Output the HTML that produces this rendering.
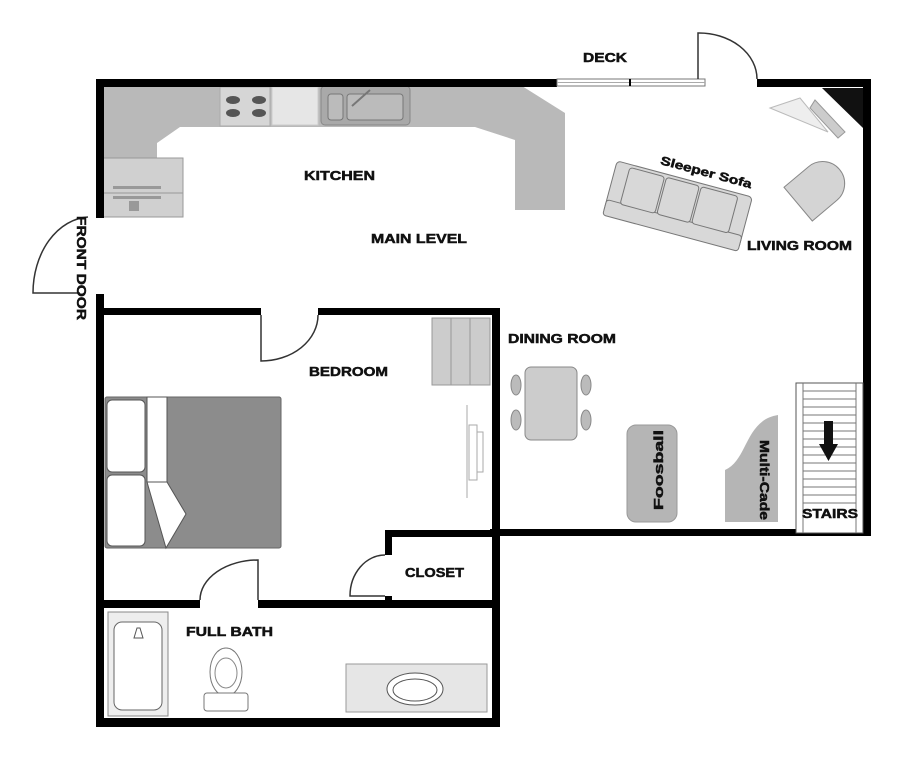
<!DOCTYPE html>
<html><head><meta charset="utf-8"><style>
html,body{margin:0;padding:0;background:#fff;}
svg{display:block;}
text{font-family:"Liberation Sans",sans-serif;font-weight:bold;fill:#111;stroke:#111;stroke-width:0.5;}
</style></head><body>
<svg width="918" height="768" viewBox="0 0 918 768" xmlns="http://www.w3.org/2000/svg">
<!-- kitchen counters -->
<path d="M103,86 L522,86 L565,113 L565,210 L515,210 L515,140 L475,127 L180,127 L157,143 L157,158 L103,158 Z" fill="#b9b9b9"/>
<rect x="100" y="158" width="83" height="59" fill="#d0d0d0" stroke="#999"/>
<line x1="100" y1="193" x2="183" y2="193" stroke="#999"/>
<rect x="113" y="186" width="48" height="3" fill="#999"/>
<rect x="113" y="196" width="48" height="3" fill="#999"/>
<rect x="129" y="201" width="10" height="10" fill="#999"/>
<rect x="220" y="87" width="50" height="39" fill="#d6d6d6" stroke="#aaa"/>
<g fill="#555"><ellipse cx="233" cy="100" rx="7" ry="4"/><ellipse cx="259" cy="100" rx="7" ry="4"/><ellipse cx="233" cy="113" rx="7" ry="4"/><ellipse cx="259" cy="113" rx="7" ry="4"/></g>
<rect x="272" y="87" width="46" height="38" fill="#e6e6e6" stroke="#ccc"/>
<rect x="321" y="86" width="89" height="39" rx="4" fill="#a9a9a9" stroke="#888"/>
<rect x="328" y="94" width="15" height="26" rx="3" fill="#bbb" stroke="#777"/>
<rect x="347" y="94" width="56" height="26" rx="3" fill="#bbb" stroke="#777"/>
<line x1="352" y1="106" x2="370" y2="90" stroke="#777" stroke-width="2"/>
<!-- walls -->
<g fill="#000">
<rect x="96" y="79" width="461" height="8"/>
<rect x="757" y="79" width="113" height="8"/>
<rect x="863" y="79" width="8" height="457"/>
<rect x="490" y="529" width="380" height="7"/>
<rect x="96" y="79" width="8" height="139"/>
<rect x="96" y="294" width="8" height="433"/>
<rect x="103" y="308" width="158" height="7"/>
<rect x="318" y="308" width="182" height="7"/>
<rect x="492" y="308" width="8" height="419"/>
<rect x="385" y="530" width="115" height="7"/>
<rect x="385" y="530" width="7" height="25"/>
<rect x="385" y="596" width="7" height="12"/>
<rect x="103" y="600" width="97" height="8"/>
<rect x="258" y="600" width="236" height="8"/>
<rect x="96" y="718" width="404" height="9"/>
</g>
<!-- deck window -->
<rect x="557" y="79" width="148" height="7" fill="#fff" stroke="#777"/>
<line x1="557" y1="82.5" x2="705" y2="82.5" stroke="#aaa"/>
<line x1="630" y1="79" x2="630" y2="86" stroke="#000" stroke-width="2"/>
<path d="M698,79 L698,33 A58,46 0 0 1 757,79" fill="none" stroke="#333" stroke-width="1.5"/>
<!-- front door -->
<path d="M88,217 A58,76 0 0 0 33,293 L80,293" fill="none" stroke="#333" stroke-width="1.5"/>
<text transform="translate(77,216) rotate(90)" font-size="13" textLength="104" lengthAdjust="spacingAndGlyphs">FRONT DOOR</text>
<!-- bedroom door -->
<path d="M261,315 L261,361 A57,46 0 0 0 318,315" fill="none" stroke="#333" stroke-width="1.5"/>
<!-- closet door -->
<path d="M385,555 A35,41 0 0 0 350,596 L385,596" fill="none" stroke="#333" stroke-width="1.5"/>
<!-- bath door -->
<path d="M200,600 A58,40 0 0 1 258,560 L258,600" fill="none" stroke="#333" stroke-width="1.5"/>
<!-- labels -->
<text x="583" y="62" font-size="13" textLength="44" lengthAdjust="spacingAndGlyphs">DECK</text>
<text x="304" y="180" font-size="13" textLength="71" lengthAdjust="spacingAndGlyphs">KITCHEN</text>
<text x="371" y="243" font-size="13" textLength="96" lengthAdjust="spacingAndGlyphs">MAIN LEVEL</text>
<text x="747" y="250" font-size="13" textLength="105" lengthAdjust="spacingAndGlyphs">LIVING ROOM</text>
<text x="508" y="343" font-size="13" textLength="108" lengthAdjust="spacingAndGlyphs">DINING ROOM</text>
<text x="309" y="376" font-size="13" textLength="79" lengthAdjust="spacingAndGlyphs">BEDROOM</text>
<text x="405" y="577" font-size="13" textLength="59" lengthAdjust="spacingAndGlyphs">CLOSET</text>
<text x="186" y="636" font-size="13" textLength="87" lengthAdjust="spacingAndGlyphs">FULL BATH</text>
<!-- sofa -->
<g transform="translate(677,208) rotate(15)">
<rect x="-70" y="-30" width="140" height="54" rx="4" fill="#d8d8d8" stroke="#777"/>
<rect x="-70" y="10" width="140" height="16" rx="3" fill="#d8d8d8" stroke="#777"/>
<rect x="-56" y="-27" width="36" height="38" rx="3" fill="#d8d8d8" stroke="#777"/>
<rect x="-18" y="-27" width="34" height="38" rx="3" fill="#d8d8d8" stroke="#777"/>
<rect x="18" y="-27" width="38" height="38" rx="3" fill="#d8d8d8" stroke="#777"/>
<text x="-28" y="-38" font-size="12" textLength="94" lengthAdjust="spacingAndGlyphs">Sleeper Sofa</text>
</g>
<!-- chair -->
<g transform="translate(815,190) rotate(-40)">
<path d="M-22,-22 L10,-22 A22,22 0 0 1 10,22 L-22,22 Z" fill="#d4d4d4" stroke="#888"/>
</g>
<!-- corner TV -->
<path d="M822,88 L863,88 L863,128 Z" fill="#111"/>
<path d="M815,100 L845,132 L838,138 L810,108 Z" fill="#ccc" stroke="#999"/>
<path d="M770,108 L800,98 L828,132 Z" fill="#eee" stroke="#bbb"/>
<!-- dining -->
<rect x="525" y="367" width="52" height="73" rx="6" fill="#ccc" stroke="#888"/>
<g fill="#bbb" stroke="#888"><ellipse cx="516" cy="385" rx="5" ry="10"/><ellipse cx="516" cy="420" rx="5" ry="10"/><ellipse cx="586" cy="385" rx="5" ry="10"/><ellipse cx="586" cy="420" rx="5" ry="10"/></g>
<!-- foosball -->
<rect x="627" y="425" width="50" height="97" rx="9" fill="#b5b5b5" stroke="#999"/>
<text transform="translate(663,510) rotate(-90)" font-size="13" textLength="80" lengthAdjust="spacingAndGlyphs">Foosball</text>
<!-- multicade -->
<path d="M725,522 L725,470 C748,460 745,420 778,415 L778,522 Z" fill="#b5b5b5"/>
<text transform="translate(760,440) rotate(90)" font-size="13" textLength="80" lengthAdjust="spacingAndGlyphs">Multi-Cade</text>
<!-- stairs -->
<rect x="796" y="383" width="67" height="150" fill="#fff" stroke="#555"/>
<g stroke="#777">
<line x1="803" y1="383" x2="803" y2="533"/><line x1="856" y1="383" x2="856" y2="533"/>
<line x1="803" y1="391" x2="856" y2="391"/><line x1="803" y1="399" x2="856" y2="399"/><line x1="803" y1="407" x2="856" y2="407"/><line x1="803" y1="415" x2="856" y2="415"/><line x1="803" y1="423" x2="856" y2="423"/><line x1="803" y1="431" x2="856" y2="431"/><line x1="803" y1="439" x2="856" y2="439"/><line x1="803" y1="447" x2="856" y2="447"/><line x1="803" y1="455" x2="856" y2="455"/><line x1="803" y1="463" x2="856" y2="463"/><line x1="803" y1="471" x2="856" y2="471"/><line x1="803" y1="479" x2="856" y2="479"/><line x1="803" y1="487" x2="856" y2="487"/><line x1="803" y1="495" x2="856" y2="495"/><line x1="803" y1="503" x2="856" y2="503"/>
</g>
<path d="M824,421 L833,421 L833,444 L838,444 L828.5,461 L819,444 L824,444 Z" fill="#111"/>
<text x="802" y="518" font-size="13" textLength="56" lengthAdjust="spacingAndGlyphs">STAIRS</text>
<!-- bed -->
<rect x="105" y="397" width="176" height="151" rx="2" fill="#8c8c8c" stroke="#666"/>
<rect x="107" y="400" width="38" height="72" rx="5" fill="#fff" stroke="#555"/>
<rect x="107" y="475" width="38" height="71" rx="5" fill="#fff" stroke="#555"/>
<rect x="147" y="397" width="20" height="85" fill="#fff" stroke="#555"/>
<path d="M147,482 L167,482 L186,514 L166,548 Z" fill="#fff" stroke="#555"/>
<!-- dresser -->
<rect x="432" y="318" width="58" height="67" fill="#ccc" stroke="#999"/>
<line x1="451" y1="318" x2="451" y2="385" stroke="#999"/><line x1="470" y1="318" x2="470" y2="385" stroke="#999"/>
<!-- bedroom TV -->
<line x1="467" y1="405" x2="467" y2="498" stroke="#aaa"/>
<rect x="469" y="425" width="8" height="55" fill="#fff" stroke="#aaa"/>
<rect x="477" y="432" width="6" height="40" fill="#fff" stroke="#aaa"/>
<!-- bath -->
<rect x="108" y="612" width="60" height="104" fill="#eee" stroke="#888"/>
<rect x="114" y="622" width="48" height="88" rx="8" fill="#fff" stroke="#666"/>
<path d="M134,638 L143,638 L140,628 L137,628 Z" fill="#fff" stroke="#555"/>
<ellipse cx="226" cy="672" rx="16" ry="24" fill="#fff" stroke="#777"/>
<ellipse cx="226" cy="673" rx="11" ry="15" fill="#fff" stroke="#888"/>
<rect x="204" y="693" width="44" height="18" rx="3" fill="#fff" stroke="#777"/>
<rect x="346" y="664" width="141" height="48" fill="#e6e6e6" stroke="#999"/>
<ellipse cx="415" cy="689" rx="28" ry="16" fill="#fff" stroke="#555"/>
<ellipse cx="415" cy="690" rx="22" ry="11" fill="none" stroke="#555"/>
</svg>
</body></html>
